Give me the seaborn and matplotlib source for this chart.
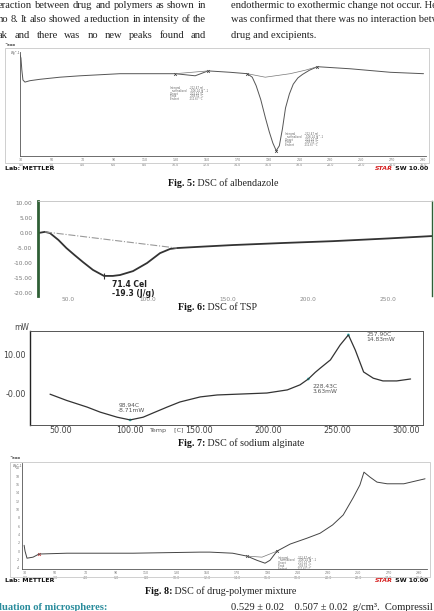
#!/usr/bin/env python3
"""
plot.py
-------
Page excerpt with the four DSC thermograms (Fig. 5-8): albendazole, TSP,
sodium alginate and the drug-polymer mixture. Curves read off the scan by eye.
"""

import matplotlib.pyplot as plt
import seaborn as sns
from matplotlib.patches import Rectangle
from matplotlib.ticker import MultipleLocator

sns.set_theme(style="white")
plt.switch_backend('Agg')
plt.rcParams['font.family'] = ['Liberation Serif', 'DejaVu Serif']

# ─────────────────────────────────────────────────────────────────────────────
#  DATA (temperature in deg C, heat flow in plot units)
# ─────────────────────────────────────────────────────────────────────────────
# Fig. 5 albendazole
ALB_T = [29.4, 30.0, 30.6, 31.3, 32.6, 35.8, 42.3, 55.2, 68.2, 94.0, 129.7,
         142.6, 151.0, 165.3, 176.3, 179.5, 182.0, 185.0, 188.0, 190.5, 192.8,
         195.0, 197.0, 199.0, 201.0, 203.5, 206.0, 209.0, 212.0, 216.5, 221.6,
         243.0, 268.8, 290.2]
ALB_HF = [0.57, 0.14, -1.6, -3.0, -3.3, -3.1, -2.9, -2.6, -2.4, -2.1, -2.1,
          -2.4, -1.7, -1.9, -2.1, -2.6, -3.8, -5.8, -8.4, -10.4, -12.0,
          -13.1, -12.4, -10.0, -7.0, -5.0, -3.6, -2.7, -2.2, -1.6, -1.1,
          -1.4, -1.9, -2.1]
ALB_BASE_T = [176.3, 187.9, 204.0, 213.8, 221.6]
ALB_BASE_HF = [-2.1, -2.6, -2.1, -1.6, -1.1]
ALB_STEP_T = [129.7, 151.0]
ALB_STEP_HF = [-2.1, -1.7]
ALB_MARK_T = [129.7, 151.0, 176.3, 195.0, 221.6]
ALB_MARK_HF = [-2.1, -1.7, -2.1, -13.1, -1.1]

# Fig. 6 TSP
TSP_T = [31.3, 35.6, 38.7, 44.0, 49.0, 54.0, 59.4, 65.6, 72.5, 78.0, 82.5,
         90.6, 99.4, 107.5, 113.8, 118.0, 135.0, 153.0, 185.0, 215.6, 250.0,
         277.5]
TSP_HF = [0.0, 0.4, 0.0, -2.3, -5.0, -7.3, -9.7, -12.3, -14.3, -14.3, -14.0,
          -12.7, -10.0, -6.7, -5.3, -5.0, -4.5, -4.0, -3.3, -2.7, -1.8, -1.0]
TSP_BASE_T = [35.6, 118.0]
TSP_BASE_HF = [0.4, -5.0]
TSP_PEAK = (72.5, -14.3)

# Fig. 7 sodium alginate
ALG_T = [42.0, 54.0, 68.8, 78.3, 90.6, 100.0, 109.4, 116.7, 126.8, 136.0,
         150.7, 163.0, 199.0, 213.8, 223.0, 229.0, 234.0, 237.7, 245.0, 252.0,
         258.0, 263.0, 269.0, 276.0, 283.0, 293.0, 303.0]
ALG_HF = [-0.3, -1.9, -3.6, -4.9, -6.2, -6.9, -6.2, -5.1, -3.6, -2.3,
          -1.0, -0.5, 0.0, 0.8, 2.1, 3.6, 5.3, 6.4, 8.5, 12.3,
          14.9, 11.0, 5.4, 3.8, 3.1, 3.1, 3.6]
ALG_MARK_T = [100.0, 229.0, 258.0]
ALG_MARK_HF = [-6.9, 3.6, 14.9]
ALG_LABELS = ["98.94C\n-8.71mW", "228.43C\n3.63mW", "257.90C\n14.83mW"]

# Fig. 8 drug-polymer mixture
MIX_T = [29.4, 30.0, 31.3, 35.3, 39.2, 57.7, 101.3, 145.5, 152.0, 167.0,
         176.5, 183.0, 188.4, 191.7, 196.3, 205.0, 216.0, 224.7, 233.0, 240.0,
         246.5, 251.0, 253.7, 257.7, 262.3, 269.0, 280.0, 294.0]
MIX_HF = [1.4, 0.0, -1.7, -1.45, -0.7, -0.5, -0.5, -0.24, -0.24, -0.5,
          -1.2, -2.2, -2.9, -2.2, 0.0, 1.7, 3.1, 4.3, 6.3, 8.7,
          12.8, 15.9, 19.0, 17.8, 16.6, 16.2, 16.2, 17.4]
MIX_BASE_T = [176.5, 186.4, 196.3]
MIX_BASE_HF = [-1.2, -1.45, 0.0]

METTLER_TICKS = list(range(30, 300, 20))

ALB_TABLE = ["Integral          -212.47 mJ", "  normalized    -106.24 Jg^-1",
             "Onset              203.14 °C", "Peak                208.52 °C",
             "Endset            211.67 °C"]
TOP_LEFT = ["eraction between drug and polymers as shown in",
            "no 8. It also showed a reduction in intensity of the",
            "ak and there was no new peaks found and"]
TOP_RIGHT = ["endothermic to exothermic change not occur. Hence it",
             "was confirmed that there was no interaction between",
             "drug and excipients."]

# ─────────────────────────────────────────────────────────────────────────────
#  LAYOUT HELPERS (page pixels, origin top-left)
# ─────────────────────────────────────────────────────────────────────────────
W, H = 435, 611
SANS = ['DejaVu Sans']
SERIF = ['Liberation Serif', 'DejaVu Serif']
BODY = 7.6

fig = plt.figure(figsize=(W / 100, H / 100), dpi=100)
fig.patch.set_facecolor('white')
rend = fig.canvas.get_renderer()


def fx(x):
    return x / W


def fy(y):
    return 1 - y / H


def px_axes(x0, y0, x1, y1):
    return fig.add_axes([fx(x0), fy(y1), (x1 - x0) / W, (y1 - y0) / H])


def box(x0, y0, x1, y1, color='#c8c8c8', lw=0.6):
    fig.add_artist(Rectangle((fx(x0), fy(y1)), (x1 - x0) / W, (y1 - y0) / H,
                             transform=fig.transFigure, fill=False,
                             edgecolor=color, lw=lw))


def runs(x, y, parts, size, family):
    for s, weight, color in parts:
        t = fig.text(fx(x), fy(y), s, fontsize=size, fontweight=weight,
                     color=color, va='center', ha='left', family=family)
        x += t.get_window_extent(rend).width


def justified(line, x0, x1, y, size):
    words = line.split()
    texts = [fig.text(0, fy(y), w, fontsize=size, va='center', ha='left',
                      family=SERIF, color='#222') for w in words]
    widths = [t.get_window_extent(rend).width for t in texts]
    gap = (x1 - x0 - sum(widths)) / (len(words) - 1)
    x = x0
    for t, w in zip(texts, widths):
        t.set_x(fx(x))
        x += w + gap


def mettler_style(ax, yticks):
    ax.set_facecolor('white')
    for side in ['top', 'right']:
        ax.spines[side].set_visible(False)
    for side in ['left', 'bottom']:
        ax.spines[side].set_color('#555')
        ax.spines[side].set_linewidth(0.6)
    ax.set_xticks(METTLER_TICKS)
    ax.set_xticklabels([f"{t}\n{(t - 30) / 10:.1f}" for t in METTLER_TICKS])
    ax.xaxis.set_minor_locator(MultipleLocator(10))
    ax.set_yticks(yticks)
    ax.set_yticklabels([f"{v:g}" for v in yticks])
    ax.tick_params(axis='both', which='major', labelsize=2.3,
                   labelcolor='#777', color='#666', length=1.6, width=0.4,
                   pad=0.6, direction='inout')
    ax.tick_params(axis='both', which='minor', color='#888', length=1.0,
                   width=0.3, direction='in')
    for lab in ax.get_xticklabels() + ax.get_yticklabels():
        lab.set_family(SANS)
    ax.set_xlabel('')
    ax.set_ylabel('')


def mettler_footer(y):
    fig.text(fx(5), fy(y), "Lab: METTLER", fontsize=4.5, fontweight='bold',
             family=SANS, va='center', ha='left', color='#111')
    t = fig.text(fx(428), fy(y), " SW 10.00", fontsize=4.5, fontweight='bold',
                 family=SANS, va='center', ha='right', color='#111')
    wdt = t.get_window_extent(rend).width
    fig.text(fx(428 - wdt), fy(y), "STAR", fontsize=4.5, fontweight='bold',
             style='italic', family=SANS, va='center', ha='right',
             color='#d62020')


# ─────────────────────────────────────────────────────────────────────────────
#  PAGE TEXT (the scan crops the surrounding paragraphs at the page edges)
# ─────────────────────────────────────────────────────────────────────────────
for i, line in enumerate(TOP_LEFT):
    justified(line, -2, 206, 5 + 15 * i, BODY)
for i, line in enumerate(TOP_RIGHT):
    fig.text(fx(231), fy(5 + 15 * i), line, fontsize=BODY, family=SERIF,
             va='center', ha='left', color='#222')

runs(-1, 607, [("luation of microspheres:", 'bold', '#2a8c9c')], BODY, SERIF)
fig.text(fx(231), fy(607), "0.529 \u00b1 0.02    0.507 \u00b1 0.02  g/cm\u00b3.  Compressil",
         fontsize=BODY, family=SERIF, va='center', ha='left', color='#222')

# ─────────────────────────────────────────────────────────────────────────────
#  FIG. 5  albendazole
# ─────────────────────────────────────────────────────────────────────────────
box(5, 48, 429, 163)
fig.text(fx(5), fy(45), "^exo", fontsize=2.8, fontweight='bold', family=SANS,
         va='center', ha='left', color='#333')
ax5 = px_axes(20, 52, 426, 156)
sns.lineplot(x=ALB_T, y=ALB_HF, ax=ax5, color='#555', lw=0.7,
             estimator=None, sort=False)
sns.lineplot(x=ALB_BASE_T, y=ALB_BASE_HF, ax=ax5, color='#777', lw=0.5,
             estimator=None, sort=False)
sns.lineplot(x=ALB_STEP_T, y=ALB_STEP_HF, ax=ax5, color='#777', lw=0.5,
             estimator=None, sort=False)
sns.scatterplot(x=ALB_MARK_T, y=ALB_MARK_HF, ax=ax5, marker='x', s=4,
                color='#333', linewidth=0.5)
ax5.set_xlim(29.4, 291.8)
ax5.set_ylim(-13.86, 1.0)
mettler_style(ax5, list(range(0, -14, 2)))
fig.text(fx(11), fy(53), "Wg^-1", fontsize=2.0, family=SANS, color='#555',
         va='center', ha='left')
for j, row in enumerate(ALB_TABLE):
    fig.text(fx(170), fy(88 + 2.8 * j), row, fontsize=1.9, family=SANS,
             color='#666', va='center', ha='left')
    fig.text(fx(285), fy(134 + 2.8 * j), row, fontsize=1.9, family=SANS,
             color='#666', va='center', ha='left')
mettler_footer(168)
runs(168, 183, [("Fig. 5:", 'bold', '#111'), (" DSC of albendazole", 'normal', '#222')],
     7.2, SERIF)

# ─────────────────────────────────────────────────────────────────────────────
#  FIG. 6  TSP
# ─────────────────────────────────────────────────────────────────────────────
ax6 = px_axes(38, 201, 432, 296)
sns.lineplot(x=TSP_T, y=TSP_HF, ax=ax6, color='#333', lw=1.3,
             estimator=None, sort=False)
sns.lineplot(x=TSP_BASE_T, y=TSP_BASE_HF, ax=ax6, color='#999', lw=0.8,
             linestyle='-.', estimator=None, sort=False)
sns.scatterplot(x=[TSP_PEAK[0]], y=[TSP_PEAK[1]], ax=ax6, marker='|', s=25,
                color='#333', linewidth=0.8)
ax6.text(77.5, -15.6, "71.4 Cel\n-19.3 (J/g)", fontsize=5.5, fontweight='bold',
         family=SANS, va='top', ha='left', color='#222', linespacing=1.0)
ax6.set_xlim(31.25, 277.5)
ax6.set_ylim(-21.0, 10.7)
ax6.set_yticks([10, 5, 0, -5, -10, -15, -20])
ax6.set_yticklabels(["10.00", "5.00", "0.00", "-5.00", "-10.00", "-15.00", "-20.00"])
ax6.set_xticks([50, 100, 150, 200, 250])
ax6.set_xticklabels(["50.0", "100.0", "150.0", "200.0", "250.0"])
ax6.spines['left'].set_color('#2f5f35')
ax6.spines['left'].set_linewidth(2.0)
ax6.spines['right'].set_color('#2f5f35')
ax6.spines['right'].set_linewidth(1.0)
ax6.spines['top'].set_color('#c0c0c0')
ax6.spines['top'].set_linewidth(0.6)
ax6.spines['bottom'].set_visible(False)
ax6.tick_params(axis='y', labelsize=4.2, labelcolor='#777', color='#999',
                length=2.5, width=0.5, pad=4, direction='in')
ax6.tick_params(axis='x', labelsize=4.2, labelcolor='#888', color='#555',
                length=2.5, width=0.8, pad=0.5, direction='in')
for lab in ax6.get_xticklabels() + ax6.get_yticklabels():
    lab.set_family(SANS)
runs(178, 307, [("Fig. 6:", 'bold', '#111'), (" DSC of TSP", 'normal', '#222')],
     7.2, SERIF)

# ─────────────────────────────────────────────────────────────────────────────
#  FIG. 7  sodium alginate
# ─────────────────────────────────────────────────────────────────────────────
ax7 = px_axes(30, 331, 423, 425)
sns.lineplot(x=ALG_T, y=ALG_HF, ax=ax7, color='#333', lw=0.9,
             estimator=None, sort=False)
sns.scatterplot(x=ALG_MARK_T, y=ALG_MARK_HF, ax=ax7, s=4, color='#3cc8c8',
                edgecolor='none')
ax7.text(91.3, -2.6, ALG_LABELS[0], fontsize=4.3, family=SANS, color='#555',
         va='top', ha='left', linespacing=0.95)
ax7.text(232.0, 2.2, ALG_LABELS[1], fontsize=4.3, family=SANS, color='#555',
         va='top', ha='left', linespacing=0.95)
ax7.text(271.0, 15.6, ALG_LABELS[2], fontsize=4.3, family=SANS, color='#555',
         va='top', ha='left', linespacing=0.95)
ax7.set_xlim(27.5, 312.0)
ax7.set_ylim(-8.2, 15.9)
ax7.set_yticks([0, 10])
ax7.set_yticklabels(["-0.00", "10.00"])
ax7.set_xticks([50, 100, 150, 200, 250, 300])
ax7.set_xticklabels(["50.00", "100.00", "150.00", "200.00", "250.00", "300.00"])
ax7.xaxis.set_minor_locator(MultipleLocator(10))
ax7.yaxis.set_minor_locator(MultipleLocator(2))
for side in ax7.spines:
    ax7.spines[side].set_color('#555')
    ax7.spines[side].set_linewidth(0.7)
ax7.spines['left'].set_color('#222')
ax7.spines['left'].set_linewidth(1.0)
ax7.tick_params(axis='both', which='major', labelsize=5.8, labelcolor='#444',
                color='#444', length=2.5, width=0.6, pad=0.5)
ax7.tick_params(axis='x', which='major', direction='in')
ax7.tick_params(axis='y', which='major', direction='out')
ax7.tick_params(axis='both', which='minor', color='#666', length=1.2,
                width=0.4, direction='in')
for lab in ax7.get_xticklabels() + ax7.get_yticklabels():
    lab.set_family(SANS)
fig.text(fx(14), fy(327), "mW", fontsize=5.5, family=SANS, color='#444',
         va='center', ha='left')
fig.text(fx(149), fy(430.5), "Temp    [C]", fontsize=4.6, family=SANS,
         color='#555', va='center', ha='left')
runs(178, 443, [("Fig. 7:", 'bold', '#111'),
                (" DSC of sodium alginate", 'normal', '#222')], 7.2, SERIF)

# ─────────────────────────────────────────────────────────────────────────────
#  FIG. 8  drug-polymer mixture
# ─────────────────────────────────────────────────────────────────────────────
box(10, 462, 430, 577)
fig.text(fx(10), fy(458), "^exo", fontsize=2.8, fontweight='bold', family=SANS,
         va='center', ha='left', color='#333')
ax8 = px_axes(22, 463, 427, 569)
sns.lineplot(x=MIX_T, y=MIX_HF, ax=ax8, color='#444', lw=0.7,
             estimator=None, sort=False)
sns.lineplot(x=MIX_BASE_T, y=MIX_BASE_HF, ax=ax8, color='#777', lw=0.5,
             estimator=None, sort=False)
sns.scatterplot(x=[39.2], y=[-0.7], ax=ax8, marker='x', s=4,
                color='#d04040', linewidth=0.6)
sns.scatterplot(x=[176.5, 196.3], y=[-1.2, 0.0], ax=ax8, marker='x', s=4,
                color='#333', linewidth=0.5)
ax8.set_xlim(28.0, 295.3)
ax8.set_ylim(-4.3, 21.2)
mettler_style(ax8, list(range(-4, 22, 2)))
fig.text(fx(13), fy(465.5), "Wg^-1", fontsize=2.0, family=SANS, color='#555',
         va='center', ha='left')
for j, row in enumerate(ALB_TABLE):
    fig.text(fx(278), fy(557.5 + 2.8 * j), row, fontsize=1.9, family=SANS,
             color='#666', va='center', ha='left')
mettler_footer(581)
runs(145, 591.5, [("Fig. 8:", 'bold', '#111'),
                  (" DSC of drug-polymer mixture", 'normal', '#222')], 7.2, SERIF)

fig.savefig('out.png', dpi=100, facecolor='white')
plt.close(fig)
